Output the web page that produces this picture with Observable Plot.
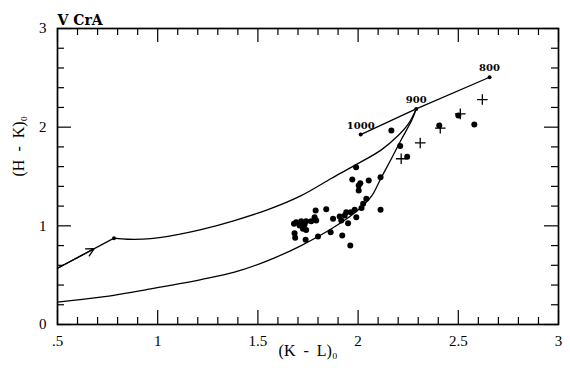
<!DOCTYPE html>
<html><head><meta charset="utf-8">
<script src="https://cdn.jsdelivr.net/npm/d3@7"></script>
<script src="https://cdn.jsdelivr.net/npm/@observablehq/plot@0.6"></script>
<style>html,body{margin:0;padding:0;background:#fff} svg{display:block}</style>
</head><body><div id="chart"></div>
<script>
// ---- text ----
const title = "V CrA";
const xLabel = "(K\u2002-\u2002L)\u2080";
const yLabel = "(H\u2002-\u2002K)\u2080";
const xTicks = [0.5, 1, 1.5, 2, 2.5, 3];
const xTickLabels = [".5", "1", "1.5", "2", "2.5", "3"];
const yTicks = [0, 1, 2, 3];
const yTickLabels = ["0", "1", "2", "3"];

// ---- observed stars: filled dots (K-L, H-K) ----
const starsKL = [1.99,1.971,2.011,2.003,2.053,2.003,2.112,2.041,2.025,2.017,1.983,1.963,1.941,1.991,2.112,1.841,1.788,1.908,1.933,1.875,1.916,1.783,1.791,1.766,1.741,1.716,1.691,1.680,1.708,1.733,1.725,1.741,1.683,1.686,1.738,1.800,1.863,1.950,1.921,1.961,2.166,2.21,2.245,2.405,2.50,2.58];
const starsHK = [1.594,1.469,1.432,1.408,1.459,1.358,1.493,1.274,1.223,1.182,1.162,1.138,1.138,1.087,1.162,1.168,1.155,1.094,1.104,1.071,1.054,1.087,1.054,1.047,1.047,1.047,1.037,1.020,1.003,1.013,0.970,0.959,0.925,0.878,0.858,0.892,0.935,1.026,0.902,0.800,1.966,1.81,1.70,2.017,2.118,2.027];

// ---- crosses ----
const crossKL = [2.215, 2.31, 2.41, 2.51, 2.62];
const crossHK = [1.68, 1.84, 1.99, 2.135, 2.28];

// ---- model curves ----
const arrowPath = [[0.5, 0.57], [0.782, 0.875]];
const arrowTip = [0.683, 0.768];
const upperCurve = [[0.782,0.875],[0.85,0.864],[0.965,0.87],[1.099,0.912],[1.216,0.962],[1.383,1.054],[1.55,1.165],[1.716,1.307],[1.866,1.48],[1.99,1.62],[2.116,1.77],[2.2,1.915],[2.25,2.03],[2.29,2.185]];
const lowerCurve = [[0.5,0.226],[0.715,0.277],[0.965,0.361],[1.216,0.455],[1.383,0.53],[1.55,0.648],[1.716,0.80],[1.883,0.99],[2.0,1.16],[2.067,1.3],[2.116,1.49],[2.166,1.68],[2.217,1.88],[2.267,2.067],[2.29,2.185]];

// ---- temperature line ----
const tempLabels = ["1000", "900", "800"];
const tempKL = [2.013, 2.29, 2.656];
const tempHK = [1.925, 2.185, 2.506];

// ---- build tables ----
const stars = starsKL.map((x, i) => ({x, y: starsHK[i]}));
const crosses = crossKL.map((x, i) => ({x, y: crossHK[i]}));
const temps = tempKL.map((x, i) => ({x, y: tempHK[i], t: tempLabels[i]}));

const xMinor = d3.range(5, 31).map(v => v / 10);
const yMinor = d3.range(0, 16).map(v => v / 5);
const xMajor = v => Math.abs(v * 2 - Math.round(v * 2)) < 1e-6;
const yMajor = v => Math.abs(v - Math.round(v)) < 1e-6;

const serif = "Liberation Serif, serif";
const tw = 1.2;

const chart = Plot.plot({
  width: 570, height: 368,
  marginLeft: 57, marginRight: 12, marginTop: 28, marginBottom: 44,
  x: {domain: [0.5, 3]},
  y: {domain: [0, 3]},
  style: {fontFamily: serif, background: "#fff", color: "#000"},
  marks: [
    // inward ticks on all four sides
    Plot.ruleX(xMinor, {x: d => d, y1: 0, y2: d => xMajor(d) ? 0.142 : 0.071, strokeWidth: tw}),
    Plot.ruleX(xMinor, {x: d => d, y1: 3, y2: d => 3 - (xMajor(d) ? 0.142 : 0.071), strokeWidth: tw}),
    Plot.ruleY(yMinor, {y: d => d, x1: 0.5, x2: d => 0.5 + (yMajor(d) ? 0.07 : 0.035), strokeWidth: tw}),
    Plot.ruleY(yMinor, {y: d => d, x1: 3, x2: d => 3 - (yMajor(d) ? 0.07 : 0.035), strokeWidth: tw}),
    Plot.frame({strokeWidth: 1.7}),
    Plot.axisX({ticks: xTicks, tickSize: 0, tickPadding: 11, tickFormat: d => xTickLabels[xTicks.indexOf(d)], label: null, fontSize: 15, fontFamily: serif, fill: "black"}),
    Plot.axisY({ticks: yTicks, tickSize: 0, tickPadding: 11, tickFormat: d => yTickLabels[yTicks.indexOf(d)], label: null, fontSize: 15, fontFamily: serif, fill: "black"}),
    // curves
    Plot.line(arrowPath, {x: d => d[0], y: d => d[1], strokeWidth: 1.3}),
    Plot.arrow([arrowTip], {x1: arrowPath[0][0], y1: arrowPath[0][1], x2: d => d[0], y2: d => d[1], headLength: 10, headAngle: 55, strokeWidth: 1.3}),
    Plot.line(upperCurve, {x: d => d[0], y: d => d[1], curve: "catmull-rom", strokeWidth: 1.3}),
    Plot.line(lowerCurve, {x: d => d[0], y: d => d[1], curve: "catmull-rom", strokeWidth: 1.3}),
    Plot.line(temps, {x: "x", y: "y", strokeWidth: 1.3}),
    Plot.dot([arrowPath[1]], {x: d => d[0], y: d => d[1], r: 2, fill: "black"}),
    Plot.dot(temps, {x: "x", y: "y", r: 2, fill: "black"}),
    Plot.text(temps, {x: "x", y: "y", text: "t", dy: -9, fontSize: 10, fontWeight: "bold", fill: "black", fontFamily: "DejaVu Serif, serif"}),
    // data
    Plot.dot(stars, {x: "x", y: "y", r: 3, fill: "black"}),
    Plot.dot(crosses, {x: "x", y: "y", symbol: "plus", r: 3.5, stroke: "black", strokeWidth: 1.3}),
    // labels
    Plot.text([xLabel], {frameAnchor: "bottom", dy: 31, fontSize: 16, fill: "black", fontFamily: serif}),
    Plot.text([yLabel], {frameAnchor: "left", dx: -39, rotate: -90, fontSize: 16, fill: "black", fontFamily: serif}),
    Plot.text([title], {frameAnchor: "top-left", dy: -13, textAnchor: "start", fontSize: 14, fontWeight: "bold", fill: "black", fontFamily: "DejaVu Serif, serif"})
  ]
});
document.getElementById("chart").append(chart);
</script>
</body></html>
